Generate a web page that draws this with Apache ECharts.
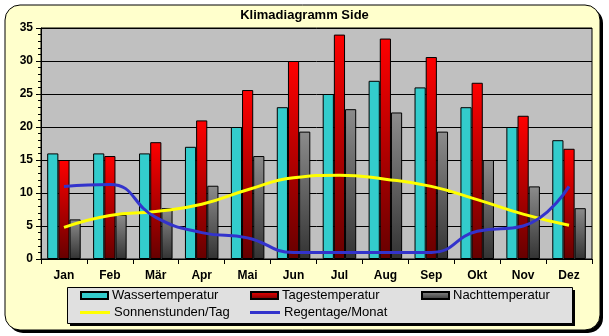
<!DOCTYPE html>
<html>
<head>
<meta charset="utf-8">
<script src="https://cdn.jsdelivr.net/npm/echarts@6/dist/echarts.min.js"></script>
<style>
html,body{margin:0;padding:0;background:#fff;}
#c{width:609px;height:336px;}
</style>
</head>
<body>
<div id="c"></div>
<script>
const months = ['Jan','Feb','Mär','Apr','Mai','Jun','Jul','Aug','Sep','Okt','Nov','Dez'];
const wasser = [16,16,16,17,20,23,25,27,26,23,20,18];
const tages = [15,15.6,17.7,21,25.6,30,34,33.4,30.6,26.7,21.7,16.7];
const nacht = [6,6.7,7.7,11.1,15.6,19.3,22.7,22.2,19.3,15,11,7.7];
const sonne = [4.8,6.6,7.2,8.3,10.5,12.3,12.7,12.1,11,9,6.8,5.1];
const regen = [11,11.3,6.3,4,3.2,1,1,1,1,4.2,5,11];
const yTicks = [0,5,10,15,20,25,30,35];

const font = 'Liberation Sans, Arial, sans-serif';
const chart = echarts.init(document.getElementById('c'), null, {renderer:'canvas'});

function legendItem(name, left, top, w, h){
  return {
    data:[name], left:left, top:top, padding:0, itemWidth:w, itemHeight:h,
    icon:'rect', selectedMode:false,
    textStyle:{fontFamily:font, fontSize:13, color:'#000', padding:[0,0,0,-1]}
  };
}

chart.setOption({
  animation:false,
  backgroundColor:'#fff',
  graphic:[
    {type:'rect', z:-10, shape:{x:8,y:8,width:595,height:325,r:15}, style:{fill:'#000'}},
    {type:'rect', z:-9, shape:{x:5,y:5,width:595,height:325,r:15}, style:{fill:'#FFFFCC',stroke:'#000',lineWidth:1}},
    {type:'rect', z:-8, shape:{x:70,y:290,width:505,height:36}, style:{fill:'#000'}},
    {type:'rect', z:-7, shape:{x:67.5,y:287.5,width:505,height:36}, style:{fill:'#E0E0E0',stroke:'#000',lineWidth:1}}
  ],
  title:{
    text:'Klimadiagramm Side', left:'center', top:9, padding:0,
    textStyle:{fontFamily:font, fontSize:13, fontWeight:'bold', color:'#000'}
  },
  legend:[
    legendItem('Wassertemperatur', 80, 289, 27, 7),
    legendItem('Tagestemperatur', 250, 289, 27, 7),
    legendItem('Nachttemperatur', 421, 289, 27, 7),
    legendItem('Sonnenstunden/Tag', 80, 306, 30, 3),
    legendItem('Regentage/Monat', 250, 306, 30, 3)
  ],
  grid:{left:41, right:17, top:28, bottom:77, show:true, backgroundColor:'#C0C0C0', borderColor:'#000', borderWidth:1},
  xAxis:{
    type:'category', data:months, boundaryGap:true,
    axisLine:{lineStyle:{color:'#000',width:1}},
    axisTick:{show:true, alignWithLabel:false, length:5, lineStyle:{color:'#000'}},
    axisLabel:{fontFamily:font, fontSize:12, fontWeight:'bold', color:'#000', margin:11}
  },
  yAxis:{
    type:'value', min:0, max:35, interval:5,
    axisLine:{show:true, lineStyle:{color:'#000'}},
    axisTick:{show:true, length:5, lineStyle:{color:'#000'}},
    minorTick:{show:true, splitNumber:5, length:3, lineStyle:{color:'#000'}},
    splitLine:{show:true, lineStyle:{color:'#000', width:1}},
    axisLabel:{fontFamily:font, fontSize:12, fontWeight:'bold', color:'#000', margin:8,
      formatter:function(v){ return yTicks.indexOf(v)>=0 ? String(v) : ''; }}
  },
  series:[
    {name:'Wassertemperatur', type:'bar', data:wasser, barGap:'0%', barCategoryGap:'27%',
      itemStyle:{color:'#33CCCC', borderColor:'#000', borderWidth:1}},
    {name:'Tagestemperatur', type:'bar', data:tages,
      itemStyle:{color:new echarts.graphic.LinearGradient(0,0,0,1,[{offset:0,color:'#FF0000'},{offset:1,color:'#660000'}]), borderColor:'#000', borderWidth:1}},
    {name:'Nachttemperatur', type:'bar', data:nacht,
      itemStyle:{color:new echarts.graphic.LinearGradient(0,0,0,1,[{offset:0,color:'#8C8C8C'},{offset:1,color:'#333333'}]), borderColor:'#000', borderWidth:1}},
    {name:'Sonnenstunden/Tag', type:'line', data:sonne, smooth:0.5, symbol:'none', z:5,
      lineStyle:{color:'#FFFF00', width:3}, itemStyle:{color:'#FFFF00', borderWidth:0}},
    {name:'Regentage/Monat', type:'line', data:regen, smooth:0.5, symbol:'none', z:5,
      lineStyle:{color:'#3333CC', width:3}, itemStyle:{color:'#3333CC', borderWidth:0}}
  ]
});
</script>
</body>
</html>
